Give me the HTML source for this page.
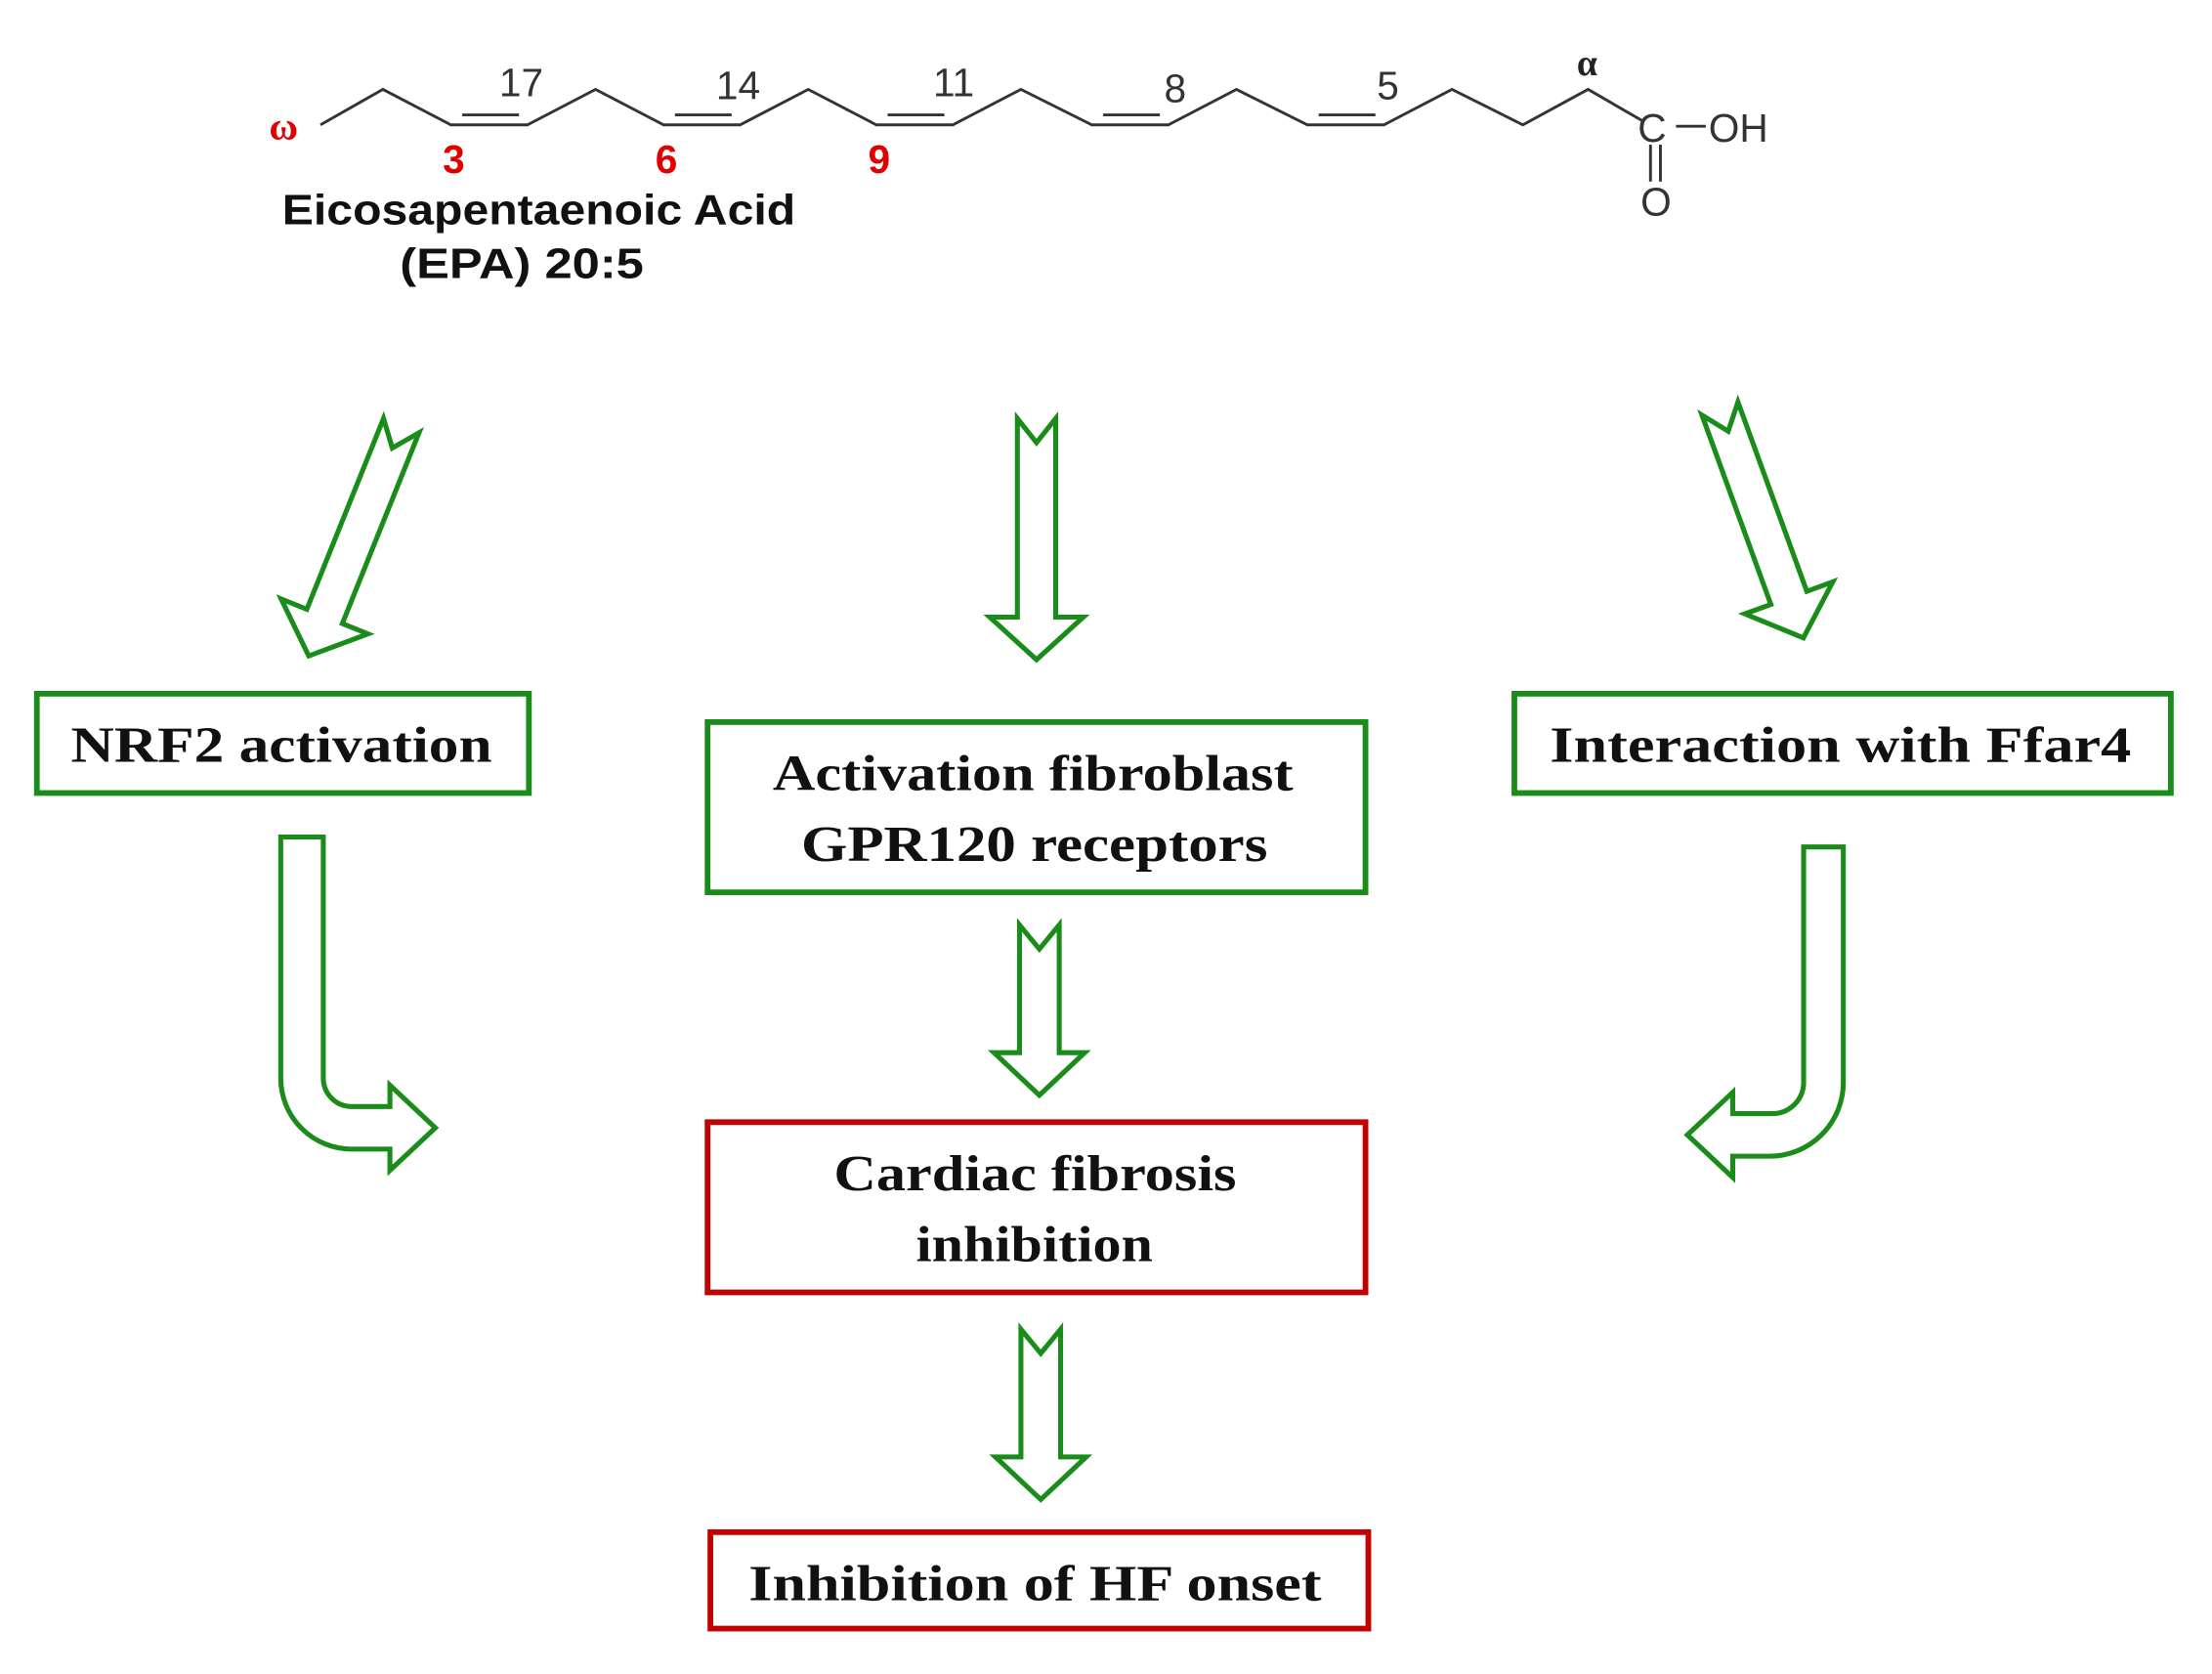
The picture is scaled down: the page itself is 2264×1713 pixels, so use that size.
<!DOCTYPE html>
<html><head><meta charset="utf-8"><style>
html,body{margin:0;padding:0;background:#fff;}
svg{display:block;}
</style></head><body>
<svg width="2264" height="1713" viewBox="0 0 1560 1180" preserveAspectRatio="none" xmlns="http://www.w3.org/2000/svg">
<rect width="1560" height="1180" fill="#fff"/>
<!-- molecule -->
<g fill="none" stroke="#333" stroke-width="2">
<polyline points="226,88 270,63 318,88 372,88 420,63 468,88 522,88 570,63 618,88 672,88 720,63 770,88 824,88 872,63 922,88 976,88 1024,63 1074,88 1120,63 1158,85"/>
<line x1="326" y1="81" x2="366" y2="81"/><line x1="476" y1="81" x2="516" y2="81"/><line x1="626" y1="81" x2="666" y2="81"/><line x1="778" y1="81" x2="818" y2="81"/><line x1="930" y1="81" x2="970" y2="81"/>
<line x1="1182" y1="89" x2="1203" y2="89"/>
<line x1="1164" y1="102" x2="1164" y2="128"/><line x1="1171" y1="102" x2="1171" y2="128"/>
</g>
<g font-family="Liberation Sans, sans-serif" fill="#333" font-size="28">
<text x="1155" y="100">C</text><text x="1205" y="100">OH</text><text x="1157" y="152">O</text>
<text x="352" y="68">17</text><text x="505" y="70">14</text><text x="658" y="68">11</text><text x="821" y="72">8</text><text x="971" y="70">5</text>
</g>
<text x="1112" y="53" font-family="Liberation Serif, serif" font-weight="bold" font-size="26" fill="#222">α</text>
<g font-family="Liberation Sans, sans-serif" fill="#e00000" font-size="28" font-weight="bold" text-anchor="middle">
<text x="200" y="98" font-family="Liberation Serif, serif">ω</text><text x="320" y="122">3</text><text x="470" y="122">6</text><text x="620" y="122">9</text>
</g>
<g font-family="Liberation Sans, sans-serif" fill="#111" font-size="30" font-weight="bold" text-anchor="middle">
<text x="380" y="158" textLength="362" lengthAdjust="spacingAndGlyphs">Eicosapentaenoic Acid</text>
<text x="368" y="196" textLength="172" lengthAdjust="spacingAndGlyphs">(EPA) 20:5</text>
</g>
<!-- boxes -->
<g fill="#fff" stroke-width="4">
<rect x="26" y="489" width="347" height="70" stroke="#1a8c1a"/>
<rect x="499" y="509" width="464" height="120" stroke="#1a8c1a"/>
<rect x="1068" y="489" width="463" height="70" stroke="#1a8c1a"/>
<rect x="499" y="791" width="464" height="120" stroke="#c40000"/>
<rect x="501" y="1080" width="464" height="68" stroke="#c40000"/>
</g>
<g font-family="Liberation Serif, serif" font-weight="bold" font-size="36" fill="#111" lengthAdjust="spacingAndGlyphs">
<text x="50" y="537" textLength="297" lengthAdjust="spacingAndGlyphs">NRF2 activation</text>
<text x="545" y="557" textLength="367" lengthAdjust="spacingAndGlyphs">Activation  fibroblast</text>
<text x="565" y="607" textLength="329" lengthAdjust="spacingAndGlyphs">GPR120 receptors</text>
<text x="1093" y="537" textLength="410" lengthAdjust="spacingAndGlyphs">Interaction  with  Ffar4</text>
<text x="588" y="839" textLength="284" lengthAdjust="spacingAndGlyphs">Cardiac  fibrosis</text>
<text x="646" y="889" textLength="167" lengthAdjust="spacingAndGlyphs">inhibition</text>
<text x="528" y="1128" textLength="404" lengthAdjust="spacingAndGlyphs">Inhibition  of HF onset</text>
</g>
<!-- arrows -->
<g fill="#fff" stroke="#1a8c1a" stroke-width="3.5" stroke-linejoin="miter">
<polygon transform="translate(731,295)" points="-13.5,0 0,17 13.5,0 13.5,140 33,140 0,170 -33,140 -13.5,140"/>
<polygon transform="translate(283,300) rotate(21.9)" points="-13.5,0 0,17 13.5,0 13.5,145 33,145 0,175 -33,145 -13.5,145"/>
<polygon transform="translate(1213,288) rotate(-20)" points="-13.5,0 0,17 13.5,0 13.5,142 33,142 0,172 -33,142 -13.5,142"/>
<polygon transform="translate(733,652)" points="-14,0 0,17 14,0 14,90 32,90 0,120 -32,90 -14,90"/>
<polygon transform="translate(734,937)" points="-14,0 0,17 14,0 14,90 32,90 0,120 -32,90 -14,90"/>
<path d="M198,590 L198,760 A50,50 0 0 0 248,810 L275,810 L275,825 L307,795 L275,765 L275,780 L248,780 A20,20 0 0 1 228,760 L228,590 Z"/>
<path d="M1300,597 L1300,763 A52,52 0 0 1 1248,815 L1222,815 L1222,830 L1190,800 L1222,770 L1222,785 L1250,785 A22,22 0 0 0 1272,763 L1272,597 Z"/>
</g>
</svg>
</body></html>
